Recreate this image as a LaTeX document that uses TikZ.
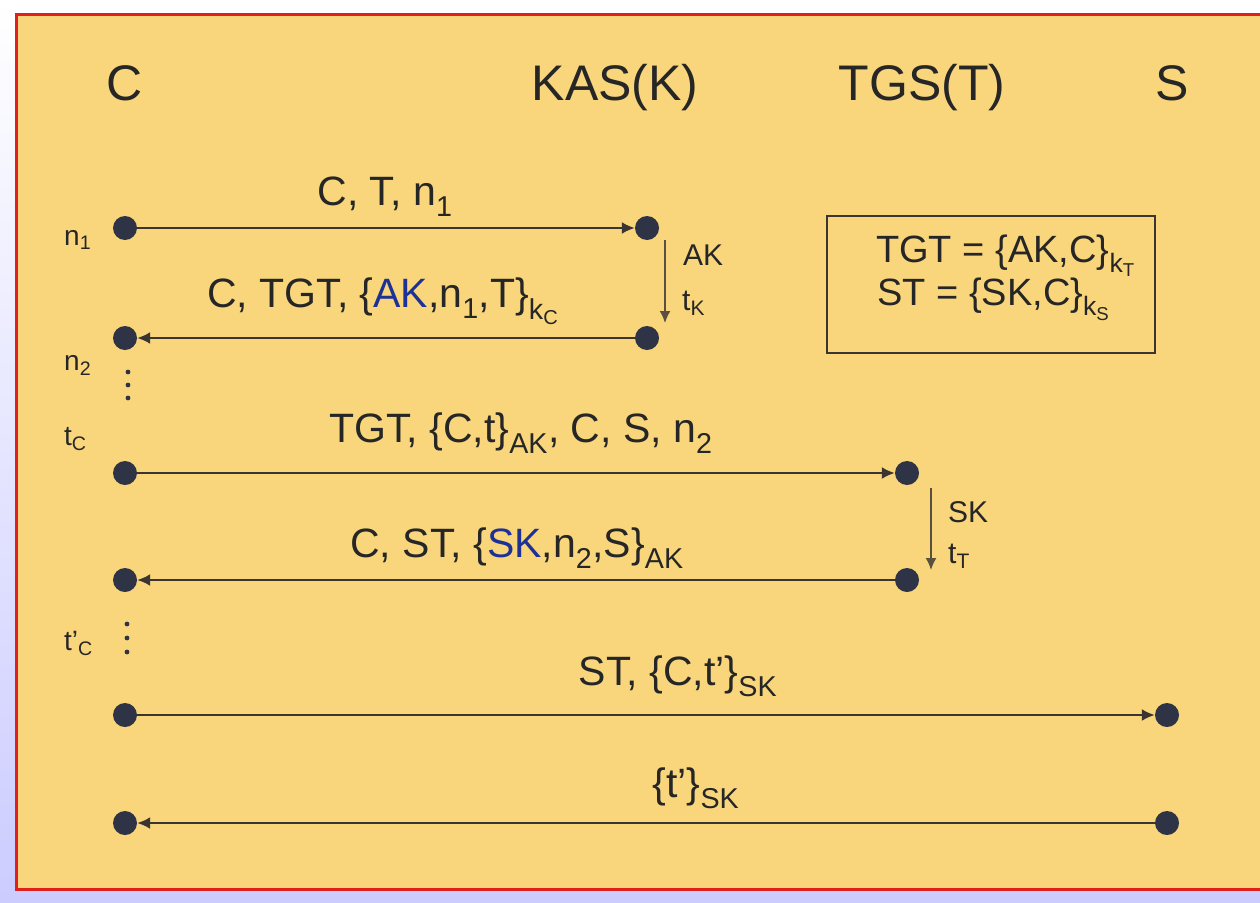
\documentclass[tikz,border=0pt]{standalone}
\usepackage{fontspec}
\setmainfont{Liberation Sans}
\usetikzlibrary{arrows.meta}
\definecolor{bgyellow}{RGB}{249,214,124}
\definecolor{lav}{RGB}{204,204,255}
\definecolor{framered}{RGB}{226,32,27}
\definecolor{dotc}{RGB}{46,52,70}
\definecolor{linec}{RGB}{58,53,48}
\definecolor{vlinec}{RGB}{90,80,64}
\definecolor{keyblue}{RGB}{30,50,150}
\newcommand\sbs[1]{\textsubscript{#1}}
\newcommand\kb[1]{{\color{keyblue}#1}}
\begin{document}
\begin{tikzpicture}[x=1pt,y=-1pt,
  dot/.style={circle, fill=dotc, minimum size=24pt, inner sep=0pt},
  msg/.style={draw=linec, line width=2.2pt, -{Latex[length=13pt,width=12pt]}},
  vmsg/.style={draw=vlinec, line width=1.6pt, -{Latex[length=12pt,width=11pt]}},
  hdr/.style={font=\fontsize{50}{60}\selectfont, anchor=base, text=black!85},
  lbl/.style={font=\fontsize{41}{49}\selectfont, anchor=base, text=black!85, inner sep=0pt},
  side/.style={font=\fontsize{28}{34}\selectfont, anchor=base west, text=black!85, inner sep=0pt},
  vlbl/.style={font=\fontsize{30}{36}\selectfont, anchor=base west, text=black!85, inner sep=0pt},
  boxtxt/.style={font=\fontsize{38}{46}\selectfont, anchor=base west, text=black!85, inner sep=0pt},
  vdot/.style={fill=dotc}]
\useasboundingbox (0,0) rectangle (1260,902);
\shade[top color=white, bottom color=lav] (0,0) rectangle (1260,902);
\draw[draw=framered, line width=3pt, fill=bgyellow] (16,14) rectangle (1275,889);

% headers
\node[hdr] (hC) at (125,100) {C};
\node[hdr] (hK) at (615,100) {KAS(K)};
\node[hdr] (hT) at (922,100) {TGS(T)};
\node[hdr] (hS) at (1172,100) {S};

% dots
\node[dot] (c1) at (125,228) {};
\node[dot] (k1) at (647,228) {};
\node[dot] (c2) at (125,338) {};
\node[dot] (k2) at (647,338) {};
\node[dot] (c3) at (125,473) {};
\node[dot] (t3) at (907,473) {};
\node[dot] (c4) at (125,580) {};
\node[dot] (t4) at (907,580) {};
\node[dot] (c5) at (125,715) {};
\node[dot] (s5) at (1167,715) {};
\node[dot] (c6) at (125,823) {};
\node[dot] (s6) at (1167,823) {};

% messages
\draw[msg] (c1) -- (k1);
\draw[msg] (k2) -- (c2);
\draw[msg] (c3) -- (t3);
\draw[msg] (t4) -- (c4);
\draw[msg] (c5) -- (s5);
\draw[msg] (s6) -- (c6);

% message labels
\node[lbl] (m1) at (385,205) {C, T, n\sbs{1}};
\node[lbl] (m2) at (383,307) {C, TGT, \{\kb{AK},n\sbs{1},T\}\sbs{k\sbs{C}}};
\node[lbl] (m3) at (521,442) {TGT, \{C,t\}\sbs{AK}, C, S, n\sbs{2}};
\node[lbl] (m4) at (517,557) {C, ST, \{\kb{SK},n\sbs{2},S\}\sbs{AK}};
\node[lbl] (m5) at (678,685) {ST, \{C,t'\}\sbs{SK}};
\node[lbl] (m6) at (696,797) {\{t'\}\sbs{SK}};

% side labels
\node[side] (ln1) at (64,245) {n\sbs{1}};
\node[side] (ln2) at (64,370) {n\sbs{2}};
\node[side] (ltc) at (64,445) {t\sbs{C}};
\node[side] (ltc2) at (64,650) {t'\sbs{C}};

% vertical dots
\fill[vdot] (128,372) circle (2.4pt) (128,385) circle (2.4pt) (128,398) circle (2.4pt);
\fill[vdot] (127,624) circle (2.4pt) (127,638) circle (2.4pt) (127,652) circle (2.4pt);

% processing arrows
\coordinate (ka) at (665,240);
\coordinate (kb) at (665,323);
\draw[vmsg] (ka) -- (kb);
\node[vlbl] (lak) at (683,265) {AK};
\node[vlbl] (ltk) at (682,310) {t\sbs{K}};
\coordinate (ta) at (931,488);
\coordinate (tb) at (931,570);
\draw[vmsg] (ta) -- (tb);
\node[vlbl] (lsk) at (948,522) {SK};
\node[vlbl] (ltt) at (948,563) {t\sbs{T}};

% ticket box
\node[draw=linec, line width=2pt, minimum width=328pt, minimum height=137pt, inner sep=0pt] (box) at (990.5,284) {};
\node[boxtxt] (b1) at (876,262) {TGT = \{AK,C\}\sbs{k\sbs{T}}};
\node[boxtxt] (b2) at (877,305) {ST = \{SK,C\}\sbs{k\sbs{S}}};
\end{tikzpicture}
\end{document}
